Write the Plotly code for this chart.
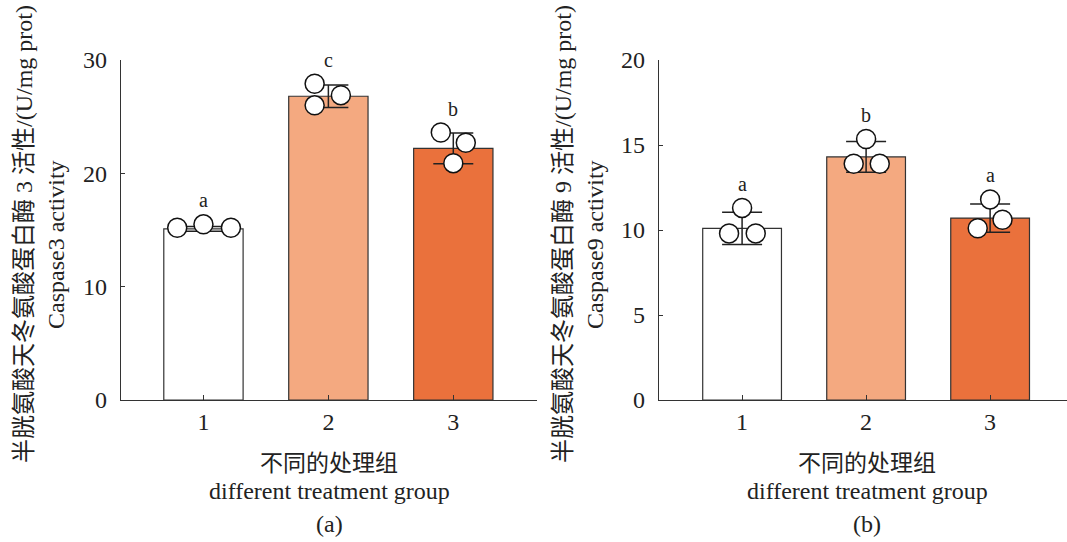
import plotly.graph_objects as go

W, H = 1067, 542

groups = [1, 2, 3]
group_labels = ["1", "2", "3"]

# Panel (a): Caspase3
casp3_mean = [15.1, 26.8, 22.2]
casp3_sd = [0.2, 1.0, 1.35]
casp3_points = [[15.2, 15.5, 15.2], [27.9, 26.9, 26.0], [23.6, 22.7, 20.9]]
casp3_jitter = [[-0.21, 0.0, 0.22], [-0.11, 0.10, -0.11], [-0.10, 0.10, 0.0]]
casp3_letters = ["a", "c", "b"]

# Panel (b): Caspase9
casp9_mean = [10.1, 14.3, 10.7]
casp9_sd = [0.95, 0.9, 0.83]
casp9_points = [[11.3, 9.8, 9.8], [15.35, 13.9, 13.9], [11.8, 10.6, 10.1]]
casp9_jitter = [[0.0, -0.105, 0.11], [0.0, -0.10, 0.11], [0.0, 0.10, -0.10]]
casp9_letters = ["a", "b", "a"]

bar_colors = ["#FFFFFF", "#F4A980", "#EA713C"]

FONT = "Liberation Serif, Times New Roman, Noto Sans CJK SC, serif"
AX = "#333333"
TXT = "#222222"

fig = go.Figure()


def add_panel(means, sds, pts, jit, letters, xa, ya):
    fig.add_trace(go.Bar(
        x=groups, y=means, width=0.635,
        marker=dict(color=bar_colors, line=dict(color=AX, width=1.2)),
        error_y=dict(type="data", array=sds, visible=True, color="#222222",
                     thickness=1.5, width=20),
        xaxis=xa, yaxis=ya, showlegend=False, hoverinfo="skip"))
    xs, ys = [], []
    for g, p, j in zip(groups, pts, jit):
        for v, o in zip(p, j):
            xs.append(g + o)
            ys.append(v)
    fig.add_trace(go.Scatter(
        x=xs, y=ys, mode="markers",
        marker=dict(size=19, color="white", line=dict(color="#111111", width=1.5)),
        xaxis=xa, yaxis=ya, showlegend=False, hoverinfo="skip", cliponaxis=False))
    for g, p, L in zip(groups, pts, letters):
        fig.add_annotation(x=g, y=max(p), xref=xa, yref=ya, text=L, showarrow=False,
                           yshift=24, font=dict(family=FONT, size=20, color=TXT))


add_panel(casp3_mean, casp3_sd, casp3_points, casp3_jitter, casp3_letters, "x", "y")
add_panel(casp9_mean, casp9_sd, casp9_points, casp9_jitter, casp9_letters, "x2", "y2")

ydom = [142 / H, 482 / H]
common_x = dict(tickvals=groups, ticktext=group_labels, ticks="inside", ticklen=5,
                tickcolor=AX, showline=True, linecolor=AX, linewidth=1.3, automargin=False,
                showgrid=False, zeroline=False, tickfont=dict(family=FONT, size=24, color=TXT))
common_y = dict(ticks="inside", ticklen=4, tickcolor=AX, showline=True, linecolor=AX,
                linewidth=1.3, showgrid=False, zeroline=False, domain=ydom, automargin=False,
                ticklabelstandoff=8,
                tickfont=dict(family=FONT, size=24, color=TXT))

fig.update_layout(
    template="none",
    width=W, height=H, margin=dict(l=0, r=0, t=0, b=0, pad=0, autoexpand=False),
    paper_bgcolor="white", plot_bgcolor="white",
    bargap=0, hovermode=False,
    xaxis=dict(domain=[121 / W, 537 / W], range=[0.34, 3.67], anchor="y", **common_x),
    yaxis=dict(range=[0, 30], tickvals=[0, 10, 20, 30], anchor="x", **common_y),
    xaxis2=dict(domain=[659 / W, 1.0], range=[0.33, 3.62], anchor="y2", **common_x),
    yaxis2=dict(range=[0, 20], tickvals=[0, 5, 10, 15, 20], anchor="x2", **common_y),
)


def txt(x, y, s, angle=0, size=24):
    fig.add_annotation(x=x / W, y=1 - y / H, xref="paper", yref="paper", text=s,
                       showarrow=False, textangle=angle, xanchor="center", yanchor="middle",
                       font=dict(family=FONT, size=size, color=TXT))


txt(24, 234, "半胱氨酸天冬氨酸蛋白酶 3 活性/(U/mg prot)", -90)
txt(56, 245, "Caspase3 activity", -90)
txt(563, 234, "半胱氨酸天冬氨酸蛋白酶 9 活性/(U/mg prot)", -90)
txt(595, 245, "Caspase9 activity", -90)

txt(329, 463, "不同的处理组", size=23)
txt(329, 491, "different treatment group")
txt(329, 524, "(a)")
txt(867, 463, "不同的处理组", size=23)
txt(867, 491, "different treatment group")
txt(867, 524, "(b)")

fig.write_html("out.html", config={"displayModeBar": False, "staticPlot": True},
               post_script="document.body.style.margin='0';document.body.style.overflow='hidden';")
